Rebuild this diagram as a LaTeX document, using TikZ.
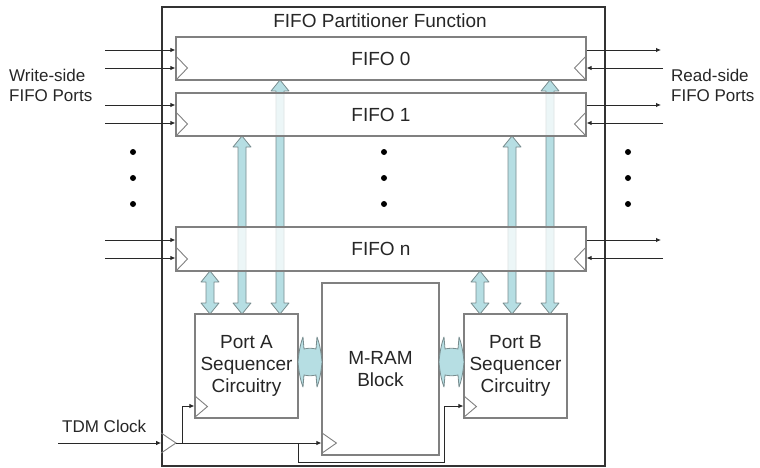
\documentclass[tikz,border=0pt]{standalone}
\usepackage{fontspec}
\setmainfont{Liberation Sans}
\usetikzlibrary{arrows.meta,calc}
\definecolor{busfill}{RGB}{182,222,227}
\definecolor{busline}{RGB}{120,140,142}
\definecolor{boxline}{RGB}{128,128,128}
\definecolor{wire}{RGB}{40,40,40}
\tikzset{
  blk/.style={draw=boxline, line width=1.1pt, fill=white, inner sep=0pt, align=center,
    font=\fontsize{19}{22}\selectfont, text=black!85},
  fifo/.style={blk, minimum width=410pt, minimum height=43pt, fill opacity=0.75, text opacity=1},
  portbox/.style={blk, minimum width=103pt, minimum height=104pt},
  lbl/.style={inner sep=0pt, align=left, font=\fontsize{17}{20}\selectfont, text=black!85},
  sig/.style={draw=wire, line width=0.9pt, -{Latex[length=5pt,width=4.5pt]}},
  clk/.style={draw=boxline, line width=0.9pt},
  bus/.style={fill=busfill, draw=busline, line width=0.8pt, line join=round},
  dot/.style={fill=black}
}
\newcommand\vbus[3]{%
  \filldraw[bus] (#1,#2) -- (#1+9,#2+11) -- (#1+4,#2+11) -- (#1+4,#3-11) -- (#1+9,#3-11)
   -- (#1,#3) -- (#1-9,#3-11) -- (#1-4,#3-11) -- (#1-4,#2+11) -- (#1-9,#2+11) -- cycle;}
\newcommand\hbus[3]{%
  \filldraw[bus] (#1,#3) .. controls (#1+1,#3-12) and (#1+3,#3-20) .. (#1+5,#3-25)
   -- (#1+6,#3-13) .. controls (#1+10,#3-14) and (#2-10,#3-14) .. (#2-6,#3-13)
   -- (#2-5,#3-25)
   .. controls (#2-3,#3-20) and (#2-1,#3-12) .. (#2,#3)
   .. controls (#2-1,#3+12) and (#2-3,#3+20) .. (#2-5,#3+25)
   -- (#2-6,#3+13) .. controls (#2-10,#3+14) and (#1+10,#3+14) .. (#1+6,#3+13)
   -- (#1+5,#3+25)
   .. controls (#1+3,#3+20) and (#1+1,#3+12) .. (#1,#3) -- cycle;}
\begin{document}
\begin{tikzpicture}[x=1pt,y=-1pt]
\useasboundingbox (0,0) rectangle (760,468);
% outer frame
\node[draw=black!80, line width=1.8pt, minimum width=443pt, minimum height=459pt, inner sep=0pt] (outer) at (383.5,236.5) {};
\node[font=\fontsize{19}{22}\selectfont, text=black!85] (title) at (380,21) {FIFO Partitioner Function};
% buses (drawn beneath the FIFO boxes)
\vbus{210}{271}{314}
\vbus{242}{136}{314}
\vbus{280}{80}{314}
\vbus{480}{271}{314}
\vbus{512}{136}{314}
\vbus{550}{80}{314}
% FIFO boxes
\node[fifo] (f0) at (381,58.5) {FIFO 0};
\node[fifo] (f1) at (381,114.5) {FIFO 1};
\node[fifo, minimum height=44pt] (fn) at (381,249) {FIFO n};
% blocks
\node[portbox] (pa) at (246.5,366) {Port A\\Sequencer\\Circuitry};
\node[blk, minimum width=117pt, minimum height=172pt] (mram) at (380.5,369) {M-RAM\\Block};
\node[portbox] (pb) at (515.5,366) {Port B\\Sequencer\\Circuitry};
\hbus{298}{322}{362}
\hbus{439}{464}{362}
% side labels
\node[lbl, anchor=west] (wlbl) at (9,85) {Write-side\\FIFO Ports};
\node[lbl, anchor=west] (rlbl) at (671,85) {Read-side\\FIFO Ports};
\node[lbl, anchor=base west] (tdmlbl) at (62,432) {TDM Clock};
% FIFO ports and clock triangles
\foreach \n/\ya/\yb in {f0/50/68, f1/105/123, fn/240/258}{
  \draw[sig] (105,\ya) -- (\n.west |- 0,\ya);
  \draw[sig] (105,\yb) -- (\n.west |- 0,\yb);
  \draw[sig] (\n.east |- 0,\ya) -- (661,\ya);
  \draw[sig] (663,\yb) -- (\n.east |- 0,\yb);
  \draw[clk] (\n.south west) -- ++(12,-12.5) -- ++(-12,-12.5);
  \draw[clk] (\n.south east) -- ++(-12,-12.5) -- ++(12,-12.5);
}
% dots
\foreach \x in {133,384,628}{
  \foreach \y in {152,178,204}{ \fill[dot] (\x,\y) circle (3pt); }
}
% clock network
\coordinate (clkin) at (58,443);
\coordinate (tdm) at (176,443);
\draw[sig] (clkin) -- (outer.west |- clkin);
\draw[clk] (outer.west |- 0,433) -- (tdm) -- (outer.west |- 0,453);
\draw[clk] ($(pa.south west)+(0,-1)$) -- ++(13,-11) -- ++(-13,-11);
\draw[clk] ($(pb.south west)+(0,-1)$) -- ++(13,-11) -- ++(-13,-11);
\draw[clk] ($(mram.south west)+(0,-2)$) -- ++(15,-10.5) -- ++(-15,-10.5);
\draw[sig] (tdm) -- (mram.west |- tdm);
\draw[sig] (182,443) |- (pa.west |- 0,406);
\draw[sig] (298,443) -- (298,462) -| (444,406) -- (pb.west |- 0,406);
\end{tikzpicture}
\end{document}
